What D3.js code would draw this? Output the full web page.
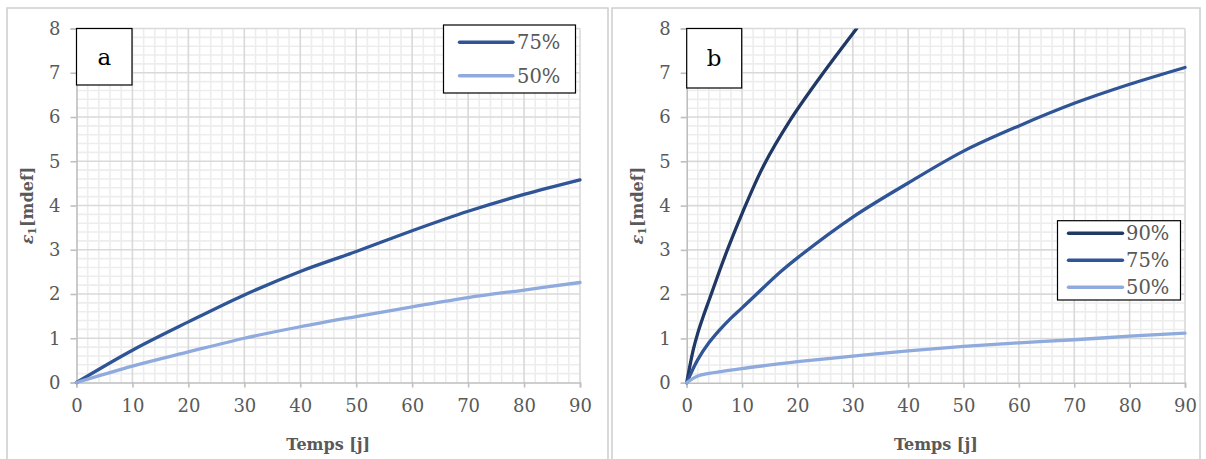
<!DOCTYPE html>
<html>
<head>
<meta charset="utf-8">
<script src="https://cdn.jsdelivr.net/npm/d3@7"></script>
<style>
  html, body { margin: 0; padding: 0; background: #ffffff; }
  svg { display: block; }
</style>
</head>
<body>
<svg id="chart" width="1206" height="459"></svg>
<script>
// ---------- DATA ----------
const xTicks = [0, 10, 20, 30, 40, 50, 60, 70, 80, 90];
const yTicks = [0, 1, 2, 3, 4, 5, 6, 7, 8];
const xLabel = "Temps [j]";

// Panel a
const daysA = [0, 10, 20, 30, 40, 50, 60, 70, 80, 90];
const a75 = [0, 0.73, 1.37, 1.98, 2.51, 2.96, 3.43, 3.87, 4.25, 4.58];
const a50 = [0, 0.37, 0.69, 1.00, 1.26, 1.49, 1.71, 1.92, 2.09, 2.26];

// Panel b
const daysB90 = [0, 1.2, 2, 3, 4, 5, 6, 7.5, 10, 13.8, 18.7, 24.1, 30.7];
const b90 = [0, 0.75, 1.12, 1.5, 1.85, 2.2, 2.55, 3.05, 3.82, 4.88, 5.93, 6.9, 8.0];
const daysB75 = [0, 2, 4, 6, 8, 10, 17, 20, 30, 40, 50, 60, 70, 80, 90];
const b75 = [0, 0.52, 0.9, 1.2, 1.46, 1.69, 2.51, 2.82, 3.74, 4.51, 5.23, 5.8, 6.31, 6.74, 7.12];
const daysB50 = [0, 2, 4, 10, 17, 20, 30, 40, 50, 60, 70, 80, 90];
const b50 = [0, 0.15, 0.21, 0.32, 0.43, 0.475, 0.6, 0.72, 0.82, 0.9, 0.97, 1.05, 1.12];

const colors = {"90%": "#203864", "75%": "#2F5597", "50%": "#8FAADC"};

// ---------- DRAW ----------
const svg = d3.select("#chart");
const TXT = "#595959";
const SERIF = "'DejaVu Serif', 'Liberation Serif', serif";

// outer frames
const frame = svg.append("g").attr("fill", "none").attr("stroke", "#d0d0d0").attr("stroke-width", 1.6);
frame.append("path").attr("d", "M7,470 V8 H608 V470");
frame.append("path").attr("d", "M612,470 V8 H1200 V470");

function drawPanel(cfg) {
  const g = svg.append("g");
  const x = d3.scaleLinear().domain([0, 90]).range([cfg.x0, cfg.x1]);
  const y = d3.scaleLinear().domain([0, 8]).range([cfg.y0, cfg.y1]);

  const clipId = "clip" + cfg.id;
  svg.append("clipPath").attr("id", clipId)
    .append("rect").attr("x", cfg.x0 - 3).attr("y", cfg.y1)
    .attr("width", cfg.x1 - cfg.x0 + 6).attr("height", cfg.y0 - cfg.y1 + 3);

  // minor grid
  const minorX = d3.range(0, 90.001, 2).filter(v => v % 10 !== 0);
  const minorY = d3.range(0, 40.001, 1).map(v => v / 5).filter(v => Math.abs(v - Math.round(v)) > 1e-6);
  g.append("g").attr("stroke", "#ededed").attr("stroke-width", 1.6)
    .selectAll("line").data(minorX).join("line")
    .attr("x1", d => x(d)).attr("x2", d => x(d)).attr("y1", y(0)).attr("y2", y(8));
  g.append("g").attr("stroke", "#ededed").attr("stroke-width", 1.6)
    .selectAll("line").data(minorY).join("line")
    .attr("y1", d => y(d)).attr("y2", d => y(d)).attr("x1", x(0)).attr("x2", x(90));

  // major grid
  g.append("g").attr("stroke", "#d9d9d9").attr("stroke-width", 1.6)
    .selectAll("line").data(xTicks.slice(1)).join("line")
    .attr("x1", d => x(d)).attr("x2", d => x(d)).attr("y1", y(0)).attr("y2", y(8));
  g.append("g").attr("stroke", "#d9d9d9").attr("stroke-width", 1.6)
    .selectAll("line").data(yTicks.slice(1)).join("line")
    .attr("y1", d => y(d)).attr("y2", d => y(d)).attr("x1", x(0)).attr("x2", x(90));

  // axes
  const xAxis = d3.axisBottom(x).tickValues(xTicks).tickSize(5).tickPadding(12).tickFormat(d3.format("d"));
  const yAxis = d3.axisLeft(y).tickValues(yTicks).tickSize(6).tickPadding(10).tickFormat(d3.format("d"));
  const gx = g.append("g").attr("transform", `translate(0,${y(0)})`).call(xAxis);
  const gy = g.append("g").attr("transform", `translate(${x(0)},0)`).call(yAxis);
  [gx, gy].forEach(ax => {
    ax.attr("font-size", null).attr("font-family", null);
    ax.select(".domain").attr("stroke", "#bfbfbf").attr("stroke-width", 1.6);
    ax.selectAll(".tick line").attr("stroke", "#bfbfbf").attr("stroke-width", 1.6);
    ax.selectAll(".tick text").attr("fill", TXT).style("font-family", SERIF).style("font-size", "18px");
  });
  gx.selectAll(".tick text").attr("dy", "0.71em");

  // axis titles
  g.append("text").attr("x", (cfg.x0 + cfg.x1) / 2).attr("y", 450)
    .attr("text-anchor", "middle").attr("fill", TXT)
    .style("font-family", SERIF).style("font-weight", "bold").style("font-size", "16px")
    .text(xLabel);
  const yt = g.append("text")
    .attr("transform", `translate(${cfg.x0 - 44},${(cfg.y0 + cfg.y1) / 2}) rotate(-90)`)
    .attr("text-anchor", "middle").attr("fill", TXT)
    .style("font-family", SERIF).style("font-size", "16px");
  yt.append("tspan").style("font-style", "italic").style("font-weight", "bold").text("ε");
  yt.append("tspan").attr("baseline-shift", "-25%").style("font-size", "11px").style("font-weight", "bold").text("1");
  yt.append("tspan").style("font-weight", "bold").text("[mdef]");

  // lines
  const line = d3.line().x(d => x(d[0])).y(d => y(d[1])).curve(d3.curveCatmullRom.alpha(0.5));
  const lg = g.append("g").attr("clip-path", `url(#${clipId})`);
  cfg.series.forEach(s => {
    lg.append("path").datum(d3.zip(s.xs, s.ys))
      .attr("fill", "none").attr("stroke", colors[s.name]).attr("stroke-width", 3.3)
      .attr("stroke-linejoin", "round").attr("stroke-linecap", "round")
      .attr("d", line);
  });

  // panel letter box
  g.append("rect").attr("x", x(0)).attr("y", y(8)).attr("width", cfg.boxW).attr("height", cfg.boxH)
    .attr("fill", "#fff").attr("stroke", "#000").attr("stroke-width", 1.2);
  g.append("text").attr("x", x(0) + cfg.boxW / 2).attr("y", y(8) + cfg.boxH / 2 + 8)
    .attr("text-anchor", "middle").attr("fill", "#000")
    .style("font-family", SERIF).style("font-size", "23px").text(cfg.letter);

  // legend
  const L = cfg.legend;
  g.append("rect").attr("x", L.x).attr("y", L.y).attr("width", L.w).attr("height", L.h)
    .attr("fill", "#fff").attr("stroke", "#000").attr("stroke-width", 1.2);
  const items = g.selectAll("g.leg").data(cfg.series).join("g")
    .attr("transform", (d, i) => `translate(0,${L.firstY + i * L.step})`);
  items.append("line").attr("x1", L.lx1).attr("x2", L.lx2).attr("y1", 0).attr("y2", 0)
    .attr("stroke", d => colors[d.name]).attr("stroke-width", 3.4).attr("stroke-linecap", "round");
  items.append("text").attr("x", L.tx).attr("y", 0).attr("dy", "0.36em")
    .attr("fill", TXT).style("font-family", SERIF).style("font-size", "19.5px")
    .text(d => d.name);
}

drawPanel({
  id: "a", letter: "a",
  x0: 76.5, x1: 580, y0: 382.5, y1: 28.5,
  boxW: 55.5, boxH: 56.5,
  series: [
    {name: "75%", xs: daysA, ys: a75},
    {name: "50%", xs: daysA, ys: a50}
  ],
  legend: {x: 443.5, y: 25, w: 132, h: 68, firstY: 42.3, step: 33.4, lx1: 459.5, lx2: 513, tx: 517}
});

drawPanel({
  id: "b", letter: "b",
  x0: 686.7, x1: 1185, y0: 382.7, y1: 28.5,
  boxW: 55, boxH: 59.5,
  series: [
    {name: "90%", xs: daysB90, ys: b90},
    {name: "75%", xs: daysB75, ys: b75},
    {name: "50%", xs: daysB50, ys: b50}
  ],
  legend: {x: 1057.5, y: 220.7, w: 123, h: 79.3, firstY: 233.3, step: 27, lx1: 1068.5, lx2: 1122.5, tx: 1126}
});
</script>
</body>
</html>
